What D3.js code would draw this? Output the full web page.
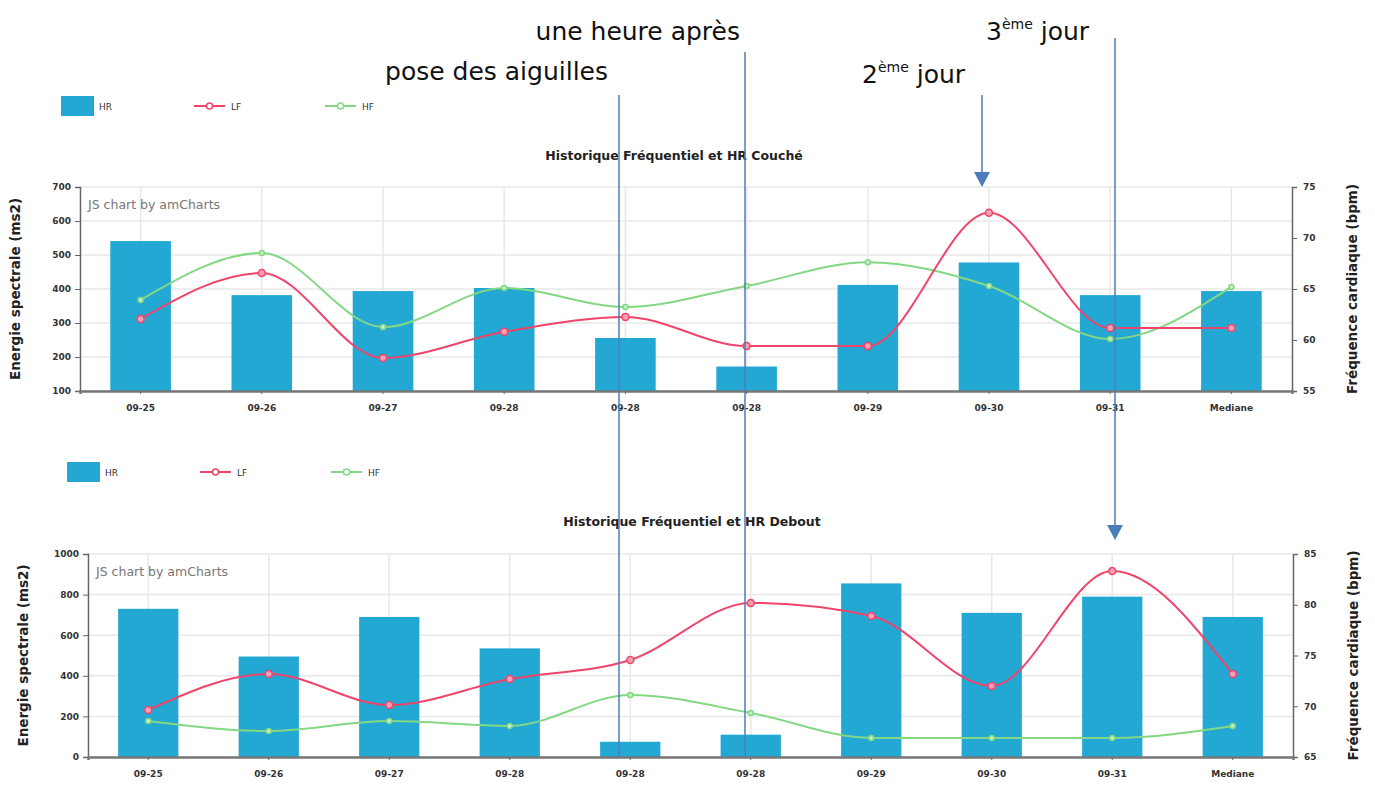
<!DOCTYPE html>
<html>
<head>
<meta charset="utf-8">
<script src="https://cdn.jsdelivr.net/npm/d3@7"></script>
<style>
  body { margin: 0; background: #fff; }
  svg text { font-family: "DejaVu Sans", Verdana, sans-serif; }
</style>
</head>
<body>
<div id="chart"></div>
<script>
// categories on the x axis (the same date appears three times)
const categories = ["09-25", "09-26", "09-27", "09-28", "09-28", "09-28", "09-29", "09-30", "09-31", "Mediane"];

// lying down (couche)
const coucheHR = [69.7, 64.4, 64.8, 65.1, 60.2, 57.4, 65.4, 67.6, 64.4, 64.8];
const coucheLF = [312, 447, 197, 274, 318, 232, 232, 624, 285, 285];
const coucheHF = [368, 506, 288, 403, 347, 409, 479, 409, 253, 406];
const coucheLeftTicks = [100, 200, 300, 400, 500, 600, 700];
const coucheRightTicks = [55, 60, 65, 70, 75];

// standing (debout)
const deboutHR = [79.6, 74.9, 78.8, 75.7, 66.5, 67.2, 82.1, 79.2, 80.8, 78.8];
const deboutLF = [232, 409, 256, 384, 478, 759, 695, 350, 916, 409];
const deboutHF = [177, 128, 177, 153, 305, 217, 94, 94, 94, 153];
const deboutLeftTicks = [0, 200, 400, 600, 800, 1000];
const deboutRightTicks = [65, 70, 75, 80, 85];

const barColor = "#22a8d3";
const lfColor = "#f0456a";
const hfColor = "#84d884";
const noteColor = "#4a7ebb";

const svg = d3.select("#chart").append("svg")
    .attr("width", 1375)
    .attr("height", 808);

function drawPanel(opt) {
    const g = svg.append("g");
    const x = d3.scaleBand()
        .domain(d3.range(categories.length))
        .range([opt.left, opt.right]);
    const yL = d3.scaleLinear().domain(d3.extent(opt.leftTicks)).range([opt.bottom, opt.top]);
    const yR = d3.scaleLinear().domain(d3.extent(opt.rightTicks)).range([opt.bottom, opt.top]);
    const cx = i => x(i) + x.bandwidth() / 2;

    // legend
    const lg = g.append("g").attr("transform", `translate(0,${opt.legendY})`);
    lg.append("rect").attr("x", opt.legendX).attr("y", -10).attr("width", 33).attr("height", 20).attr("fill", barColor);
    lg.append("text").attr("x", opt.legendX + 38).attr("y", 3.5).attr("font-size", 9).attr("fill", "#333").text("HR");
    [["LF", lfColor, opt.legendX + 133], ["HF", hfColor, opt.legendX + 264]].forEach(([name, col, lx]) => {
        lg.append("line").attr("x1", lx).attr("x2", lx + 31).attr("y1", 0).attr("y2", 0)
            .attr("stroke", col).attr("stroke-width", 2);
        lg.append("circle").attr("cx", lx + 15.5).attr("cy", 0).attr("r", 3)
            .attr("fill", "#fff").attr("stroke", col).attr("stroke-width", 1.5);
        lg.append("text").attr("x", lx + 37).attr("y", 3.5).attr("font-size", 9).attr("fill", "#333").text(name);
    });

    // title
    g.append("text")
        .attr("x", opt.titleX)
        .attr("y", opt.titleY)
        .attr("text-anchor", "middle")
        .attr("font-size", 12.5)
        .attr("font-weight", "bold")
        .attr("fill", "#222")
        .text(opt.title);

    // grid
    g.append("g").selectAll("line").data(opt.leftTicks).join("line")
        .attr("x1", opt.left).attr("x2", opt.right)
        .attr("y1", d => yL(d)).attr("y2", d => yL(d))
        .attr("stroke", "#e8e8e8").attr("stroke-width", 1.5);
    g.append("g").selectAll("line").data(d3.range(categories.length)).join("line")
        .attr("x1", cx).attr("x2", cx)
        .attr("y1", opt.top).attr("y2", opt.bottom)
        .attr("stroke", "#e8e8e8").attr("stroke-width", 1.5);

    g.append("text")
        .attr("x", opt.left + 8).attr("y", opt.top + 22)
        .attr("font-size", 12.5).attr("fill", "#777")
        .text("JS chart by amCharts");

    // HR bars on the right axis
    g.append("g").selectAll("rect").data(opt.hr).join("rect")
        .attr("x", (d, i) => cx(i) - x.bandwidth() * 0.25)
        .attr("width", x.bandwidth() * 0.5)
        .attr("y", d => yR(d))
        .attr("height", d => opt.bottom - yR(d))
        .attr("fill", barColor);

    // LF / HF smooth lines on the left axis
    const line = d3.line()
        .x((d, i) => cx(i))
        .y(d => yL(d))
        .curve(d3.curveMonotoneX);
    [[opt.hf, hfColor, 2.5], [opt.lf, lfColor, 3.5]].forEach(([vals, col, r]) => {
        g.append("path").datum(vals).attr("d", line)
            .attr("fill", "none").attr("stroke", col).attr("stroke-width", 2);
        g.append("g").selectAll("circle").data(vals).join("circle")
            .attr("cx", (d, i) => cx(i)).attr("cy", d => yL(d)).attr("r", r)
            .attr("fill", col === lfColor ? "#f7a0b4" : "#c6f0c6")
            .attr("stroke", col).attr("stroke-width", 1.5);
    });

    // axes
    const left = g.append("g").attr("transform", `translate(${opt.left},0)`)
        .call(d3.axisLeft(yL).tickValues(opt.leftTicks).tickFormat(d3.format("d")).tickSize(5).tickPadding(4));
    const right = g.append("g").attr("transform", `translate(${opt.right},0)`)
        .call(d3.axisRight(yR).tickValues(opt.rightTicks).tickSize(5).tickPadding(6));
    const bottom = g.append("g").attr("transform", `translate(0,${opt.bottom})`)
        .call(d3.axisBottom(x).tickFormat(i => categories[i]).tickSize(3).tickPadding(11));
    [left, right, bottom].forEach(a => {
        a.select(".domain").attr("stroke", "#666").attr("stroke-width", 1.5);
        a.selectAll(".tick line").attr("stroke", "#666");
        a.selectAll("text").attr("font-size", 9).attr("fill", "#333").attr("font-weight", "bold");
    });
    bottom.select(".domain").attr("stroke", "#777").attr("stroke-width", 2.5);

    const midY = (opt.top + opt.bottom) / 2;
    g.append("text")
        .attr("transform", `translate(${opt.left - 60},${midY}) rotate(-90)`)
        .attr("text-anchor", "middle").attr("font-size", 13.5).attr("font-weight", "bold").attr("fill", "#222")
        .text("Energie spectrale (ms2)");
    g.append("text")
        .attr("transform", `translate(${opt.right + 65},${midY}) rotate(-90)`)
        .attr("text-anchor", "middle").attr("font-size", 13.5).attr("font-weight", "bold").attr("fill", "#222")
        .text("Fréquence cardiaque (bpm)");
}

drawPanel({
    title: "Historique Fréquentiel et HR Couché",
    hr: coucheHR, lf: coucheLF, hf: coucheHF,
    leftTicks: coucheLeftTicks, rightTicks: coucheRightTicks,
    left: 80, right: 1292, top: 187, bottom: 391,
    legendX: 61, legendY: 106, titleX: 674, titleY: 160
});

drawPanel({
    title: "Historique Fréquentiel et HR Debout",
    hr: deboutHR, lf: deboutLF, hf: deboutHF,
    leftTicks: deboutLeftTicks, rightTicks: deboutRightTicks,
    left: 88, right: 1293, top: 554, bottom: 757,
    legendX: 67, legendY: 472, titleX: 692, titleY: 526
});

// hand drawn annotations on top
const notes = svg.append("g");

notes.append("line").attr("x1", 619).attr("x2", 619).attr("y1", 95).attr("y2", 757)
    .attr("stroke", noteColor).attr("stroke-width", 1.5);
notes.append("line").attr("x1", 745).attr("x2", 745).attr("y1", 52).attr("y2", 757)
    .attr("stroke", noteColor).attr("stroke-width", 1.5);
notes.append("line").attr("x1", 982).attr("x2", 982).attr("y1", 95).attr("y2", 172)
    .attr("stroke", noteColor).attr("stroke-width", 1.5);
notes.append("path").attr("d", "M974,172 L990,172 L982,187 Z").attr("fill", noteColor);
notes.append("line").attr("x1", 1115).attr("x2", 1115).attr("y1", 38).attr("y2", 525)
    .attr("stroke", noteColor).attr("stroke-width", 1.5);
notes.append("path").attr("d", "M1107,525 L1123,525 L1115,540 Z").attr("fill", noteColor);

const noteFont = "'Open Sans', 'Noto Sans', sans-serif";
notes.append("text").attr("x", 740).attr("y", 40).attr("text-anchor", "end")
    .attr("font-size", 25).attr("font-family", noteFont).attr("fill", "#111").text("une heure après");
notes.append("text").attr("x", 608).attr("y", 80).attr("text-anchor", "end")
    .attr("font-size", 25).attr("font-family", noteFont).attr("fill", "#111").text("pose des aiguilles");

function ordinal(x, y, num) {
    const t = notes.append("text").attr("x", x).attr("y", y)
        .attr("font-size", 25).attr("font-family", noteFont).attr("fill", "#111");
    t.append("tspan").text(num);
    t.append("tspan").attr("font-size", 14).attr("dy", -11).text("ème");
    t.append("tspan").attr("dy", 11).text(" jour");
}
ordinal(862, 83, "2");
ordinal(986, 40, "3");
</script>
</body>
</html>
